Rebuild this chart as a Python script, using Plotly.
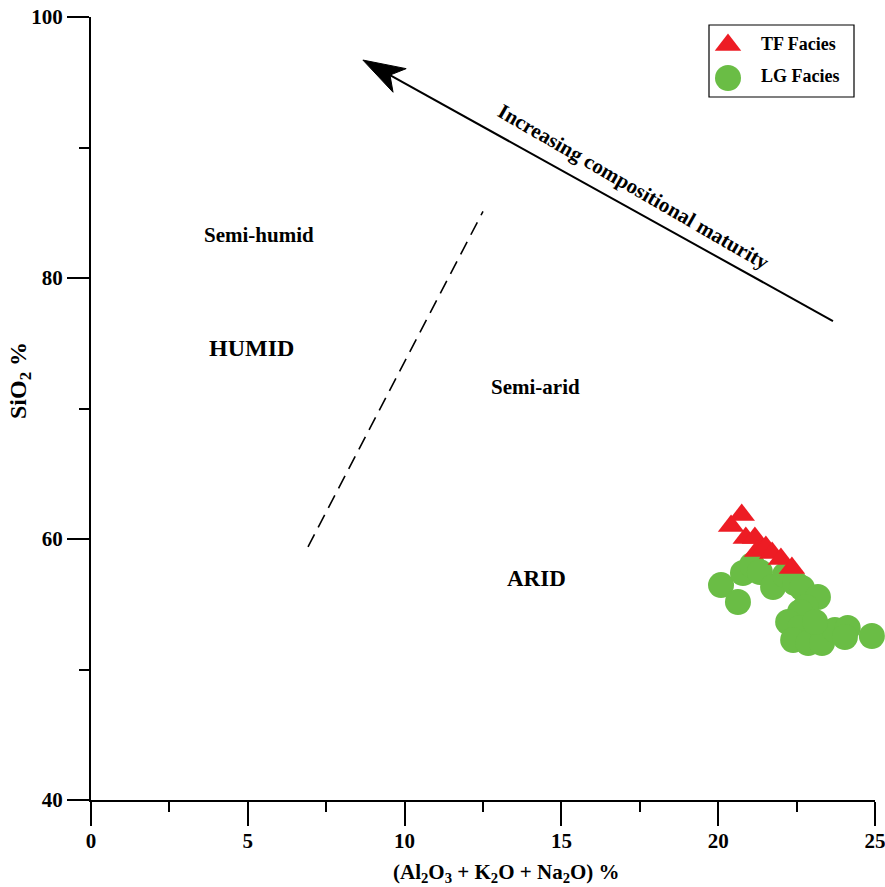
import math
import plotly.graph_objects as go

# ---- data -------------------------------------------------------------
tf_x = [20.41, 20.75, 20.88, 21.17, 21.24, 21.52, 21.72, 22.00, 22.35]
tf_y = [61.00, 61.84, 60.08, 60.08, 59.08, 59.39, 58.93, 58.47, 57.78]

lg_x = [20.09, 20.63, 20.79, 21.08, 21.33, 21.75, 22.13, 22.45, 22.67, 23.18, 22.79,
        22.61, 22.23, 22.61, 22.39, 22.87, 23.31, 23.72, 24.13, 24.04, 24.90, 23.09]
lg_y = [56.47, 55.17, 57.39, 58.01, 57.47, 56.32, 57.24, 56.63, 56.25, 55.56, 54.79,
        54.41, 53.64, 53.18, 52.26, 52.03, 52.03, 53.03, 53.18, 52.49, 52.57, 53.64]

series_names = ["TF Facies", "LG Facies"]

# climate field boundary (dashed) and maturity trend arrow
boundary_x = [6.92, 12.5]
boundary_y = [59.4, 85.1]
arrow_tail = (23.66, 76.7)
arrow_tip = (8.67, 96.7)

field_labels = ["Semi-humid", "HUMID", "Semi-arid", "ARID"]
field_x = [5.36, 5.13, 14.16, 14.19]
field_y = [83.3, 74.6, 71.65, 57.0]
field_size = [21, 24, 21, 23]

x_range = [0, 25]
y_range = [40, 100]

# ---- layout constants ---------------------------------------------------
W, H = 885, 887
ML, MR, MT, MB = 91, 10, 17, 87
PW, PH = W - ML - MR, H - MT - MB
SX = PW / (x_range[1] - x_range[0])   # px per x unit
SY = PH / (y_range[1] - y_range[0])   # px per y unit

RED = "#ED1C24"
GREEN = "#6ABD45"
FONT = "Liberation Serif"

fig = go.Figure()

# samples
fig.add_trace(go.Scatter(
    x=lg_x, y=lg_y, mode="markers", name=series_names[1], showlegend=False,
    marker=dict(symbol="circle", size=26, color=GREEN, line=dict(width=0)),
    cliponaxis=False))
fig.add_trace(go.Scatter(
    x=tf_x, y=tf_y, mode="markers", name=series_names[0], showlegend=False,
    marker=dict(symbol="triangle-up", size=23, color=RED, line=dict(width=0)),
    cliponaxis=False))

# arrow: shaft + filled barbed head, built in pixel space then mapped back
bx = (arrow_tail[0] - arrow_tip[0]) * SX
by = -(arrow_tail[1] - arrow_tip[1]) * SY
blen = math.hypot(bx, by)
ux, uy = bx / blen, by / blen          # unit vector from tip towards tail (screen)
nx, ny = -uy, ux                       # perpendicular (screen)


def off(along, side):
    px = along * ux + side * nx
    py = along * uy + side * ny
    return arrow_tip[0] + px / SX, arrow_tip[1] - py / SY


head_len, notch_len, half_w = 42, 31, 13.5
p_w1 = off(head_len, -half_w)
p_n = off(notch_len, 0)
p_w2 = off(head_len, half_w)
fig.add_trace(go.Scatter(
    x=[arrow_tail[0], p_n[0]], y=[arrow_tail[1], p_n[1]], mode="lines",
    line=dict(color="black", width=2), showlegend=False, hoverinfo="skip"))
fig.add_trace(go.Scatter(
    x=[arrow_tip[0], p_w1[0], p_n[0], p_w2[0], arrow_tip[0]],
    y=[arrow_tip[1], p_w1[1], p_n[1], p_w2[1], arrow_tip[1]],
    mode="lines", fill="toself", fillcolor="black",
    line=dict(color="black", width=1), showlegend=False, hoverinfo="skip"))

# dashed humid/arid boundary
fig.add_shape(type="line", x0=boundary_x[0], y0=boundary_y[0],
              x1=boundary_x[1], y1=boundary_y[1],
              line=dict(color="black", width=1.6, dash="14px,8px"))

# field labels
for t, x, y, s in zip(field_labels, field_x, field_y, field_size):
    fig.add_annotation(x=x, y=y, text=t, showarrow=False,
                       font=dict(family=FONT, size=s, color="black", weight="bold"),
                       xanchor="center", yanchor="middle")

# text along the arrow
ang = math.degrees(math.atan2(by, bx))
fig.add_annotation(x=17.31, y=86.97, text="Increasing compositional maturity",
                   showarrow=False, textangle=ang + 1,
                   font=dict(family=FONT, size=21, color="black", weight="bold"),
                   xanchor="center", yanchor="middle")


def px_to_paper(px, py):
    return (px - ML) / PW, (MT + PH - py) / PH


# axis titles
tx, ty = px_to_paper(506, 873)
fig.add_annotation(xref="paper", yref="paper", x=tx, y=ty,
                   text="(Al<sub>2</sub>O<sub>3</sub> + K<sub>2</sub>O + Na<sub>2</sub>O) %",
                   showarrow=False, xanchor="center", yanchor="middle",
                   font=dict(family=FONT, size=21, color="black", weight="bold"))
tx, ty = px_to_paper(20, 381)
fig.add_annotation(xref="paper", yref="paper", x=tx, y=ty,
                   text="SiO<sub>2</sub> %", textangle=-90,
                   showarrow=False, xanchor="center", yanchor="middle",
                   font=dict(family=FONT, size=24, color="black", weight="bold"))

# legend box drawn on an overlay paper-like axis so markers keep full size
lx0, ly0 = px_to_paper(709, 97)
lx1, ly1 = px_to_paper(854, 25)
fig.add_shape(type="rect", xref="paper", yref="paper", x0=lx0, y0=ly0, x1=lx1, y1=ly1,
              line=dict(color="black", width=1.2), fillcolor="white", layer="below")

leg_sym_x, _ = px_to_paper(728, 0)
_, leg_tri_y = px_to_paper(0, 45)
_, leg_cir_y = px_to_paper(0, 78)
fig.add_trace(go.Scatter(
    x=[leg_sym_x], y=[leg_tri_y], xaxis="x2", yaxis="y2", mode="markers",
    marker=dict(symbol="triangle-up", size=23, color=RED), showlegend=False,
    hoverinfo="skip", cliponaxis=False))
fig.add_trace(go.Scatter(
    x=[leg_sym_x], y=[leg_cir_y], xaxis="x2", yaxis="y2", mode="markers",
    marker=dict(symbol="circle", size=26, color=GREEN), showlegend=False,
    hoverinfo="skip", cliponaxis=False))
leg_txt_x, _ = px_to_paper(759, 0)
for name, py in zip(series_names, [44, 76]):
    fig.add_annotation(xref="paper", yref="paper", x=leg_txt_x, y=px_to_paper(0, py)[1],
                       text=name, showarrow=False, xanchor="left", yanchor="middle",
                       font=dict(family=FONT, size=18, color="black", weight="bold"))

axis_common = dict(
    showline=True, linecolor="black", linewidth=2, showgrid=False, zeroline=False,
    ticks="outside", tickcolor="black", tickwidth=2, automargin=False,
    ticklabeloverflow="allow",
    tickfont=dict(family=FONT, size=21, color="black", weight="bold"),
)
fig.update_layout(
    width=W, height=H,
    margin=dict(l=ML, r=MR, t=MT, b=MB, autoexpand=False),
    paper_bgcolor="white", plot_bgcolor="white",
    showlegend=False,
    xaxis=dict(range=x_range, dtick=5, tick0=0, ticklen=24, ticklabelstandoff=-3,
               minor=dict(dtick=2.5, ticklen=10, tickwidth=2, tickcolor="black", ticks="outside"),
               **axis_common),
    yaxis=dict(range=y_range, dtick=20, tick0=40, ticklen=22,
               minor=dict(dtick=10, ticklen=10, tickwidth=2, tickcolor="black", ticks="outside"),
               **axis_common),
    xaxis2=dict(range=[0, 1], overlaying="x", visible=False, fixedrange=True, automargin=False),
    yaxis2=dict(range=[0, 1], overlaying="y", visible=False, fixedrange=True, automargin=False),
)

fig.write_html("out.html")
